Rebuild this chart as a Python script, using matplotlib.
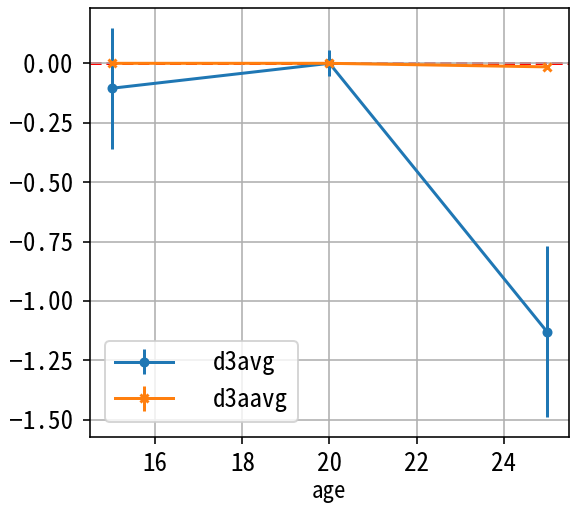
import matplotlib
matplotlib.use("Agg")
import matplotlib.pyplot as plt

plt.rcParams['font.family'] = ['Noto Sans Mono CJK JP', 'Noto Sans CJK JP', 'DejaVu Sans']

age = [15, 20, 25]
d3avg = [-0.105, 0.0, -1.13]
d3avg_err = [0.255, 0.055, 0.36]
d3aavg = [0.0, 0.0, -0.015]
d3aavg_err = [0.004, 0.004, 0.004]

fig = plt.figure(figsize=(570 / 144, 511 / 144), dpi=144)
ax = fig.add_axes([0.158, 0.145, 0.84, 0.839])

ax.errorbar(age, d3avg, yerr=d3avg_err, marker="o", ms=4, color="#1f77b4", label="d3avg")
ax.errorbar(age, d3aavg, yerr=d3aavg_err, marker="x", ms=4, mew=1.5,
            color="#ff7f0e", label="d3aavg")
ax.axhline(0, color="red", ls="--", lw=1.5, zorder=1)

ax.set_xlabel("age", fontsize=11.5, labelpad=2)
ax.set_yticks([0.0, -0.25, -0.5, -0.75, -1.0, -1.25, -1.5])
ax.tick_params(labelsize=12.5)
ax.tick_params(axis="y", pad=5)
ax.tick_params(axis="x", pad=4)
ax.grid(True)
ax.legend(loc="lower left", fontsize=12.5, handlelength=2.3, handletextpad=1.6,
          borderaxespad=0.6)

fig.savefig("out.png", dpi=144)
